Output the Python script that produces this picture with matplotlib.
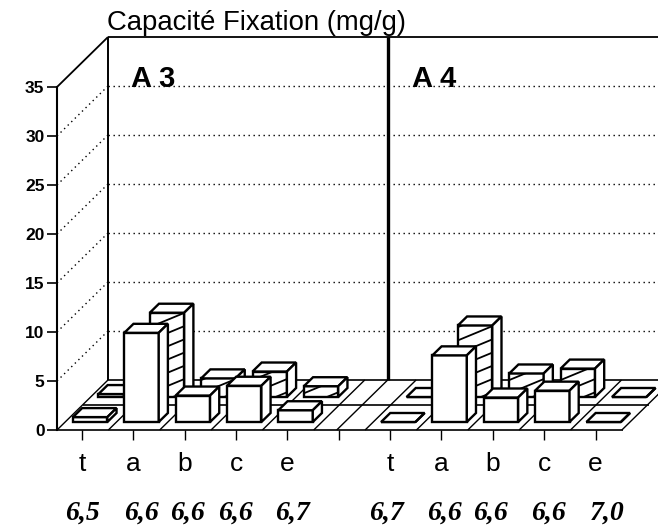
import matplotlib
matplotlib.use("Agg", force=True)
import matplotlib.pyplot as plt
from matplotlib.patches import Polygon

plt.rcParams["font.family"] = ["Liberation Sans", "DejaVu Sans"]

# valeurs (mg/g)
categories = ["t", "a", "b", "c", "e", "", "t", "a", "b", "c", "e"]
front_values = [0.5, 9.1, 2.7, 3.7, 1.2, None, 0.0, 6.8, 2.5, 3.2, 0.0]
back_values = [0.3, 8.6, 1.9, 2.6, 1.1, None, 0.0, 7.3, 2.4, 2.9, 0.0]
ph_labels = ["6,5", "6,6", "6,6", "6,6", "6,7", "6,7", "6,6", "6,6", "6,6", "7,0"]
ph_positions = [0.0, 1.15, 2.06, 2.98, 4.09, 5.92, 7.05, 7.95, 9.08, 10.22]
y_ticks = [0, 5, 10, 15, 20, 25, 30, 35]

W, H = 658, 528
X0, Y0 = 82.0, 430.0   # pixel de la categorie 0 / valeur 0
PX_CAT, PX_VAL = 51.35, 9.8
DX, DY = 51 / PX_CAT, 50 / PX_VAL   # decalage de profondeur


def proj(x, y, d):
    """d = profondeur en fraction du sol (0 devant, 1 au fond)"""
    return x + DX * d, y + DY * d


fig = plt.figure(figsize=(W / 100, H / 100), dpi=100)
left, right = (57 - X0) / PX_CAT, (W - X0) / PX_CAT
ax = fig.add_axes([57 / W, (H - Y0) / H, (W - 57) / W, 35 * PX_VAL / H])
ax.set_xlim(left, right)
ax.set_ylim(0, 35)
ax.patch.set_visible(False)
for s in ["top", "right", "bottom"]:
    ax.spines[s].set_visible(False)
ax.spines["left"].set_linewidth(1.5)


def line(xs, ys, **kw):
    kw.setdefault("color", "black")
    kw.setdefault("lw", 1.2)
    ax.plot(xs, ys, clip_on=False, solid_capstyle="butt", **kw)


# murs et grille
for v in y_ticks[1:]:
    style = dict(lw=1.3) if v == 35 else dict(lw=1.0, ls=(0, (1, 2.6)))
    x1, y1 = proj(left, v, 1)
    line([left, x1], [v, y1], **style)
    line([x1, right], [y1, y1], **style)
x1, y1 = proj(left, 0, 1)
line([x1, x1], [y1, y1 + 35], lw=1.4)

# mur central
xw, yw = proj(4.96, 0, 1)
line([xw, xw], [yw, yw + 35], lw=2.4)

# sol
floor_right = (623 - X0) / PX_CAT
for d in [0, 0.5, 1]:
    xa, ya = proj(left, 0, d)
    xb, yb = proj(floor_right, 0, d)
    line([xa, xb], [ya, yb], lw=1.2)
for i in range(12):
    xa = left + i
    xb, yb = proj(xa, 0, 1)
    line([xa, xb], [0, yb], lw=1.0)
xb, yb = proj(4.96, 0, 1)
line([4.96, xb], [0, yb], lw=1.0)


def draw_bar(i, v, d1, d2, hatched, z):
    half = 0.335
    xl, y0 = proj(i - half, 0, d1)
    xr, _ = proj(i + half, 0, d1)
    xl2, y2 = proj(i - half, 0, d2)
    xr2, _ = proj(i + half, 0, d2)
    top, top2 = y0 + v, y2 + v
    kw = dict(fc="white", ec="black", lw=1.7, clip_on=False, joinstyle="miter")
    front = Polygon([(xl, y0), (xr, y0), (xr, top), (xl, top)], zorder=z, **kw)
    ax.add_patch(front)
    ax.add_patch(Polygon([(xl, top), (xr, top), (xr2, top2), (xl2, top2)], zorder=z, **kw))
    ax.add_patch(Polygon([(xr, y0), (xr2, y2), (xr2, top2), (xr, top)], zorder=z, **kw))
    if hatched:
        k = y0 - (xr - xl) * 1.45
        while k < top:
            ln, = ax.plot([xl, xr], [k, k + 1.45], color="black", lw=1.3, zorder=z + 0.1)
            ln.set_clip_path(front)
            k += 1.35


for i, v in enumerate(back_values):
    if v is not None:
        draw_bar(i, v, 33 / 50, 42 / 50, True, 3 + i * 0.01)
for i, v in enumerate(front_values):
    if v is not None:
        draw_bar(i, v, 8 / 50, 17 / 50, False, 4 + i * 0.01)

# axes
ax.set_yticks(y_ticks)
ax.set_yticklabels([str(v) for v in y_ticks], fontsize=12.5, fontweight="bold")
ax.set_xticks(range(len(categories)))
ax.set_xticklabels(categories, fontsize=19)
ax.tick_params(axis="y", length=7, width=1.2, pad=2)
ax.tick_params(axis="x", length=7, width=1.0, pad=9)

# textes
fig.text(107 / W, 1 - 30 / H, "Capacité Fixation (mg/g)", fontsize=19.8, ha="left", va="baseline")
fig.text(131 / W, 1 - 87 / H, "A 3", fontsize=21, fontweight="bold", va="baseline")
fig.text(412 / W, 1 - 87 / H, "A 4", fontsize=21, fontweight="bold", va="baseline")
for xp, lab in zip(ph_positions, ph_labels):
    ax.text(xp, (Y0 - 520) / PX_VAL, lab, ha="center", va="baseline", fontsize=20,
            family="Liberation Serif", style="italic", fontweight="bold")

fig.savefig("out.png", dpi=100)
plt.close(fig)
